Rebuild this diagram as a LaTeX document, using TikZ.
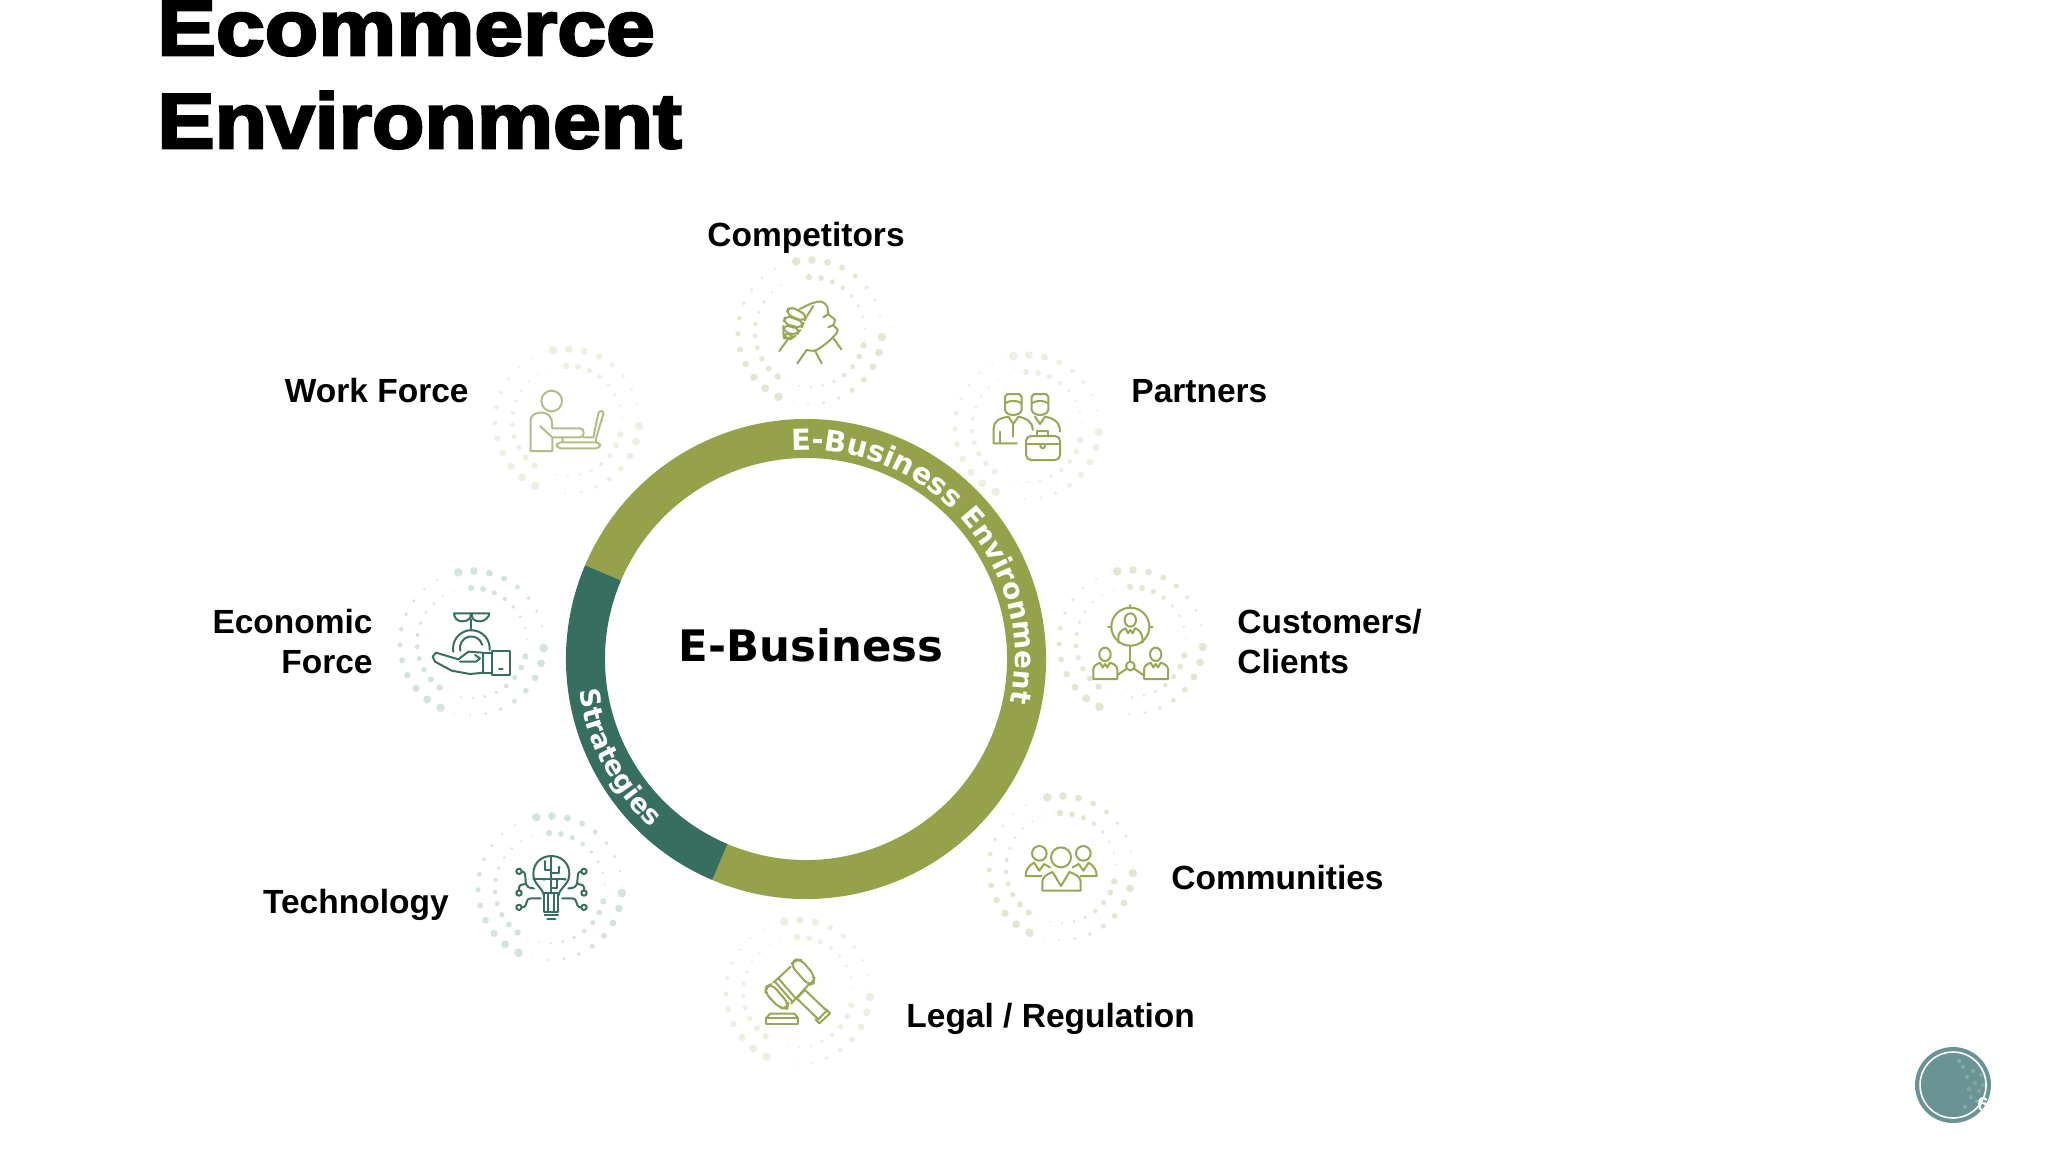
\documentclass[tikz,border=0pt]{standalone}
\usepackage{fontspec}
\usetikzlibrary{decorations.text}
\setmainfont{Liberation Sans}
\newfontfamily\dejafont{DejaVu Sans}
\newfontfamily\headfont{Liberation Sans}[BoldFeatures={FakeBold=3.4,FakeStretch=1.1}]
\newfontfamily\headwide{Liberation Sans}[BoldFeatures={FakeBold=3.4,FakeStretch=1.125}]
\definecolor{ringolive}{HTML}{95A24A}
\definecolor{ringteal}{HTML}{366F60}
\definecolor{iconolive}{HTML}{9AA653}
\definecolor{iconpale}{HTML}{B4BD87}
\definecolor{haloolive}{HTML}{E3E6D1}
\definecolor{halopale}{HTML}{EEEEE2}
\definecolor{haloteal}{HTML}{D3E3DF}
\definecolor{badge}{HTML}{6A9494}
\definecolor{badgelight}{HTML}{84A6A5}
\newcommand\ringfnt{\dejafont\bfseries\fontsize{13.5}{13.5}\selectfont}
\newcommand\ringbig{\dejafont\bfseries\fontsize{14.5}{14.5}\selectfont}
\newcommand\ringmid{\dejafont\bfseries\fontsize{13.9}{13.9}\selectfont}
% one lobe of a dot ring: start angle, radius, biggest dot, number of dots
\newcommand\halolobe[4]{%
  \foreach \k in {0,...,#4}{%
    \pgfmathsetmacro\ang{#1-12.5*\k}%
    \pgfmathsetmacro\rad{0.6+(#3)*(1-\k/#4)}%
    \fill (\ang:#2) circle [radius=\rad];
  }}
\newcommand\halodots[3]{%
  \begin{scope}[shift={(#1,-#2)},fill=#3]
    \halolobe{101}{72}{3.7}{8}\halolobe{-4}{72}{3.7}{8}\halolobe{244}{72}{3.7}{11}
    \halolobe{91}{55}{2.6}{8}\halolobe{-14}{55}{2.6}{8}\halolobe{234}{55}{2.6}{11}
  \end{scope}}
\tikzset{
  px/.style={x=0.5pt,y=0.5pt},
  zoomed/.style 2 args={shift={(#1,-#2)},yscale=-1,scale=1/3},
  icon/.style={draw=#1,line width=1pt,line cap=round,line join=round},
  label/.style={font=\bfseries\fontsize{16.75}{20}\selectfont,text=black,inner sep=0pt},
  headline/.style={font=\headfont\bfseries\fontsize{39}{39}\selectfont,text=black,inner sep=0pt,anchor=base west},
}
\begin{document}
\begin{tikzpicture}[px]
\useasboundingbox (0,0) rectangle (2048,-1152);
\clip (0,0) rectangle (2048,-1152);
\fill[white] (0,0) rectangle (2048,-1152);

% title
\node[headline,font=\headwide\bfseries\fontsize{39}{39}\selectfont] (titleA) at (157,-55) {Ecommerce};
\node[headline] (titleB) at (157,-148) {Environment};

% ring
\begin{scope}[shift={(806,-659)}]
  \fill[ringolive] (157:240) arc [start angle=157,end angle=-113,radius=240] -- (-113:201) arc [start angle=-113,end angle=157,radius=201] -- cycle;
  \fill[ringteal] (157:240) arc [start angle=157,end angle=247,radius=240] -- (247:201) arc [start angle=247,end angle=157,radius=201] -- cycle;
  \path[decorate,decoration={text along path,text color=white,text align={left},text={|\ringbig|E-Business| ||\ringmid| Environment}}]
    (94:209) arc [start angle=94,end angle=-16,radius=209];
  \path[decorate,decoration={text along path,text color=white,text align={left},text={|\ringfnt|Strategies}}]
    (188:229) arc [start angle=188,end angle=232,radius=229];
\end{scope}
\node[font=\dejafont\bfseries\fontsize{21.7}{21.7}\selectfont,text=black,inner sep=0pt,anchor=base] (centre) at (811,-661) {E-Business};

% halos
\halodots{810}{332}{haloolive}
\halodots{1027}{427}{halopale}
\halodots{567}{421}{halopale}
\halodots{472}{643}{haloteal}
\halodots{550}{888}{haloteal}
\halodots{798}{992}{halopale}
\halodots{1131}{642}{haloolive}
\halodots{1061}{868}{haloolive}

% labels
\node[label,anchor=center] (competitors) at (806,-238) {Competitors};
\node[label,anchor=west] (partners) at (1131,-391) {Partners};
\node[label,anchor=west,align=left] (customers) at (1237,-642) {Customers/\\Clients};
\node[label,anchor=west] (communities) at (1171,-878) {Communities};
\node[label,anchor=west] (legal) at (906,-1019) {Legal / Regulation};
\node[label,anchor=east] (technology) at (449,-905) {Technology};
\node[label,anchor=east,align=right] (economic) at (373,-642) {Economic\\Force};
\node[label,anchor=east] (workforce) at (469,-391) {Work Force};

% competitors icon: clasped hands
\begin{scope}[zoomed={700}{240}]
  \draw[icon=iconolive] plot[smooth,tension=.55] coordinates {(298,208) (335,190) (365,185) (382,200) (385,222) (405,240) (400,255) (413,270) (405,285) (385,305) (365,320) (345,332) (320,330)};
  \draw[icon=iconolive] (238,333)--(268,292);
  \draw[icon=iconolive] (424,328)--(398,292);
  \draw[icon=iconolive] (292,370)--(320,330);
  \draw[icon=iconolive] (345,332)--(365,370);
  \draw[icon=iconolive,rounded corners=3pt] (268,198)--(322,226)--(312,245)--(258,222)--cycle;
  \draw[icon=iconolive,rounded corners=3pt] (256,226)--(312,246)--(304,265)--(250,250)--cycle;
  \draw[icon=iconolive,rounded corners=3pt] (250,254)--(302,268)--(290,285)--(250,276)--cycle;
  \draw[icon=iconolive,rounded corners=3pt] (250,278)--(285,288)--(272,297)--(252,294)--cycle;
  \draw[icon=iconolive] (340,198)--(322,226) (385,222)--(370,232) (400,255)--(385,262);
\end{scope}

% partners icon
\begin{scope}[zoomed={700}{240}]
  \draw[icon=iconolive] (915,490)--(915,470)--(922,462)--(958,462)--(965,470)--(965,510) .. controls (960,530) and (920,530) .. (915,510)--cycle;
  \draw[icon=iconolive] (915,490) .. controls (930,480) and (950,480) .. (965,490);
  \draw[icon=iconolive] (995,490)--(995,470)--(1002,462)--(1038,462)--(1045,470)--(1045,510) .. controls (1040,530) and (1000,530) .. (995,510)--cycle;
  \draw[icon=iconolive] (995,490) .. controls (1010,480) and (1030,480) .. (1045,490);
  \draw[icon=iconolive] (950,610)--(881,610)--(881,565) .. controls (881,545) and (895,535) .. (925,530)--(940,552)--(955,530) .. controls (980,535) and (998,545) .. (998,570);
  \draw[icon=iconolive] (940,552)--(940,590) (900,575)--(900,610);
  \draw[icon=iconolive] (1005,530)--(1020,552)--(1035,530) .. controls (1060,535) and (1080,545) .. (1080,575);
  \draw[icon=iconolive,rounded corners=2.5pt] (978,588) rectangle (1080,660);
  \draw[icon=iconolive] (1012,588)--(1012,572)--(1045,572)--(1045,588);
  \draw[icon=iconolive] (978,612)--(1020,612) (1037,612)--(1080,612);
  \draw[icon=iconolive] (1028,618) circle [radius=7];
\end{scope}

% work force icon
\begin{scope}[zoomed={380}{330}]
  \draw[icon=iconpale] (515,213) circle [radius=31];
  \draw[icon=iconpale] (517,322)--(517,363)--(452,363)--(452,270) .. controls (452,245) and (505,235) .. (515,270)--(517,295)--(600,295) .. controls (615,295) and (615,322) .. (600,322)--(517,322)--(480,288);
  \draw[icon=iconpale,rounded corners=2pt] (530,337) rectangle (660,355);
  \draw[icon=iconpale] (548,322)--(548,337) (610,322)--(640,322)--(655,250) .. controls (660,240) and (672,240) .. (670,252)--(648,325)--(648,337);
\end{scope}

% economic force icon
\begin{scope}[zoomed={380}{330}]
  \draw[icon=ringteal] (273,868)--(273,898);
  \draw[icon=ringteal] (222,850)--(272,850) .. controls (274,865) and (265,874) .. (245,874) .. controls (230,874) and (222,860) .. (222,850);
  \draw[icon=ringteal] (328,850)--(275,850) .. controls (273,865) and (282,874) .. (300,874) .. controls (315,874) and (328,860) .. (328,850);
  \draw[icon=ringteal] (220,965) arc [start angle=170,end angle=365,radius=55];
  \draw[icon=ringteal] (241,962) arc [start angle=165,end angle=345,radius=34];
  \draw[icon=ringteal] (310,1028)--(270,1032)--(215,1022)--(165,995)--(158,980)--(168,968)--(235,988)--(265,965)--(310,968);
  \draw[icon=ringteal] (240,995)--(288,995)--(300,985)--(285,975);
  \draw[icon=ringteal] (310,968) rectangle (335,1030);
  \draw[icon=ringteal] (335,962) rectangle (390,1035);
  \draw[icon=ringteal] (357,1018)--(368,1018);
\end{scope}

% technology icon
\begin{scope}[zoomed={450}{790}]
  \draw[icon=ringteal] (282,318) .. controls (278,290) and (250,285) .. (250,252) .. controls (250,180) and (358,180) .. (358,252) .. controls (358,285) and (330,290) .. (325,318);
  \draw[icon=ringteal] (282,310)--(325,310) (282,310)--(282,365)--(325,365)--(325,310) (295,310)--(295,365) (312,310)--(312,365);
  \draw[icon=ringteal] (284,376)--(324,376) (292,388)--(316,388);
  \draw[icon=ringteal] (250,268)--(345,268) (304,200)--(304,310) (304,295)--(322,295)--(322,270) (285,215)--(285,240)--(304,240) (327,232)--(327,250)--(304,250);
  \foreach \p in {(285,215),(327,232),(282,268),(322,270),(345,268)} \fill[ringteal] \p circle [radius=4.5];
  \draw[icon=ringteal] (207,244) circle [radius=8] (207,309) circle [radius=8] (207,352) circle [radius=8];
  \draw[icon=ringteal] (402,244) circle [radius=8] (402,309) circle [radius=8] (402,352) circle [radius=8];
  \draw[icon=ringteal] (215,244) .. controls (228,246) and (225,255) .. (227,275) .. controls (228,292) and (240,295) .. (252,295);
  \draw[icon=ringteal] (207,301)--(207,292) .. controls (207,285) and (212,285) .. (225,282);
  \draw[icon=ringteal] (215,352) .. controls (238,352) and (220,325) .. (245,325)--(272,325);
  \draw[icon=ringteal] (394,244) .. controls (381,246) and (384,255) .. (382,275) .. controls (381,292) and (369,295) .. (355,295);
  \draw[icon=ringteal] (402,301)--(402,292) .. controls (402,285) and (397,285) .. (384,282);
  \draw[icon=ringteal] (394,352) .. controls (371,352) and (389,325) .. (364,325)--(337,325);
\end{scope}

% legal icon: gavel
\begin{scope}[zoomed={450}{790}]
  \draw[icon=iconolive,rounded corners=3pt] (1022,525)--(1036,508)--(1055,510)--(1094,558)--(1090,580)--(1075,585)--cycle;
  \draw[icon=iconolive] (1022,530)--(970,578) (1072,588)--(1024,640) (985,565)--(1037,625) (975,575)--(1027,635);
  \draw[icon=iconolive,rounded corners=3pt] (948,590)--(965,582)--(1015,640)--(1012,655)--(990,655)--(946,610)--cycle;
  \draw[icon=iconolive] (1040,625)--(1065,600)--(1130,662)--(1105,688)--cycle;
  \draw[icon=iconolive] (1128,658)--(1140,670)--(1108,700)--(1096,688);
  \draw[icon=iconolive] (948,685) rectangle (1045,703);
  \draw[icon=iconolive] (948,685)--(960,671)--(1033,671)--(1045,685);
\end{scope}

% customers icon
\begin{scope}[zoomed={960}{550}]
  \draw[icon=iconolive] (511,230) circle [radius=57];
  \draw[icon=iconolive] (511,165)--(511,173) (445,230)--(454,230) (568,230)--(578,230);
  \draw[icon=iconolive] (511,210) ellipse [x radius=17,y radius=20];
  \draw[icon=iconolive] (475,278)--(475,262) .. controls (475,248) and (485,240) .. (497,235)--(504,250)--(511,240)--(518,250)--(525,235) .. controls (540,240) and (548,250) .. (548,278);
  \draw[icon=iconolive] (511,287)--(511,335);
  \draw[icon=iconolive] (511,348) circle [radius=13];
  \draw[icon=iconolive] (500,356)--(472,375) (522,356)--(550,375);
  \foreach \sx in {0,152}{
    \draw[icon=iconolive] (435+\sx,313) ellipse [x radius=17,y radius=20];
    \draw[icon=iconolive] (400+\sx,387)--(400+\sx,358) .. controls (400+\sx,348) and (410+\sx,342) .. (420+\sx,338)--(428+\sx,352)--(435+\sx,342)--(442+\sx,352)--(450+\sx,338) .. controls (462+\sx,342) and (472+\sx,348) .. (472+\sx,358)--(472+\sx,387)--cycle;
  }
\end{scope}

% communities icon
\begin{scope}[zoomed={960}{550}]
  \draw[icon=iconolive] (303,922) circle [radius=30];
  \draw[icon=iconolive] (247,1022)--(247,995) .. controls (247,980) and (262,972) .. (278,966)--(303,1008)--(328,966) .. controls (345,972) and (362,980) .. (362,995)--(362,1022)--cycle;
  \draw[icon=iconolive] (238,910) circle [radius=22] (370,910) circle [radius=22];
  \draw[icon=iconolive] (245,978)--(197,978) .. controls (197,960) and (205,948) .. (222,938)--(238,962)--(252,942)--(270,952);
  \draw[icon=iconolive] (362,978)--(410,978) .. controls (410,960) and (402,948) .. (386,938)--(370,962)--(356,942)--(338,952);
\end{scope}

% page badge
\begin{scope}[shift={(1953,-1085)}]
  \fill[badge] (0,0) circle [radius=38];
  \foreach \p/\q in {14/8,20/14,22/2,26/-6,16/-4,10/18,28/10,18/-12,24/-16,12/-22,6/24,30/0}
    \fill[badgelight] (\p,\q) circle [radius=2.2];
  \draw[white,line width=.8pt] (0,0) circle [radius=33];
\end{scope}
\node[text=white,font=\bfseries\fontsize{10}{10}\selectfont,inner sep=0pt] (page) at (1983,-1105) {6};
\end{tikzpicture}
\end{document}
